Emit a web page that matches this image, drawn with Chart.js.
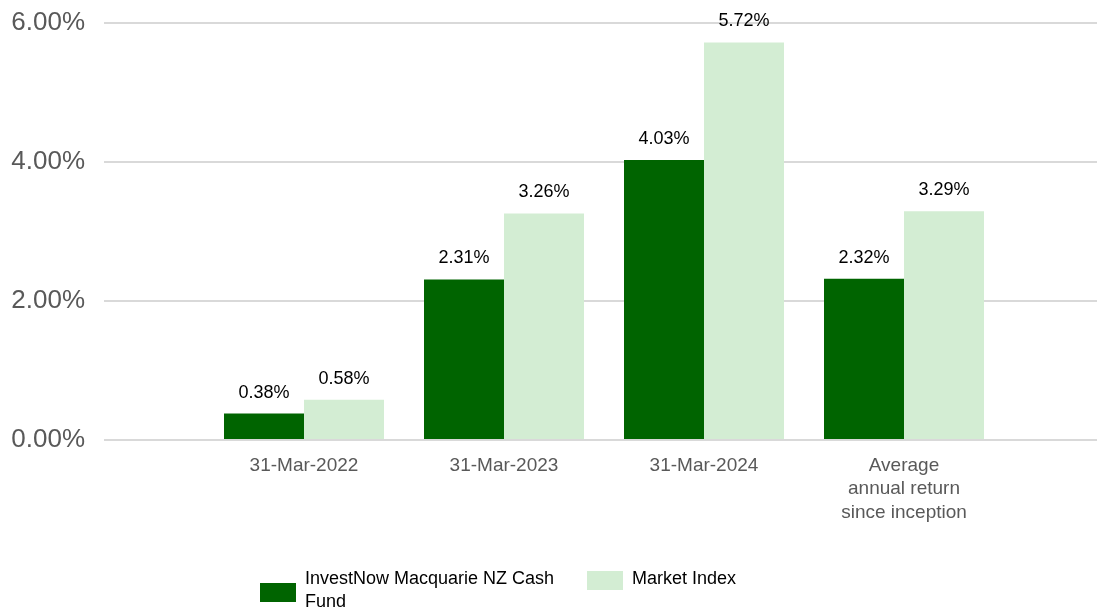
<!DOCTYPE html>
<html>
<head>
<meta charset="utf-8">
<script src="https://cdn.jsdelivr.net/npm/chart.js@4/dist/chart.umd.min.js"></script>
<style>
    html, body { margin: 0; padding: 0; background: #fff; overflow: hidden; }
    #wrap { position: relative; width: 1097px; height: 614px; overflow: hidden; }
    #statisticsChart { position: absolute; left: 0; top: 0; }
    .legend-item { position: absolute; font-family: "Liberation Sans", Arial, sans-serif; font-size: 18px; line-height: 23px; color: #000; }
    .legend-box { position: absolute; width: 36px; height: 19px; }
</style>
</head>
<body>
<div id="wrap">
    <canvas id="statisticsChart" width="1118" height="614"></canvas>
    <div id="legend"></div>
</div>
<script>
const categories = ['31-Mar-2022', '31-Mar-2023', '31-Mar-2024', ['Average', 'annual return', 'since inception']];
const seriesNames = ['InvestNow Macquarie NZ Cash Fund', 'Market Index'];
const fundValues = [0.38, 2.31, 4.03, 2.32];
const indexValues = [0.58, 3.26, 5.72, 3.29];
const yTicks = [0, 2, 4, 6];
const colors = ['#006400', '#d3edd3'];

// empty slot at each end so the groups sit like in the original
const labels = [''].concat(categories, ['']);
const pad = arr => [null].concat(arr, [null]);

const valueLabels = {
    id: 'valueLabels',
    afterDatasetsDraw(chart) {
        const ctx = chart.ctx;
        ctx.save();
        ctx.font = '18px "Liberation Sans", Arial, sans-serif';
        ctx.fillStyle = '#000';
        ctx.textAlign = 'center';
        ctx.textBaseline = 'middle';
        chart.data.datasets.forEach((ds, i) => {
            chart.getDatasetMeta(i).data.forEach((bar, j) => {
                const v = ds.data[j];
                if (v === null) return;
                ctx.fillText(v.toFixed(2) + '%', bar.x, bar.y - 21);
            });
        });
        ctx.restore();
    }
};

const ctx = document.getElementById('statisticsChart').getContext('2d');
const chart = new Chart(ctx, {
    type: 'bar',
    data: {
        labels: labels,
        datasets: [{
            label: seriesNames[0],
            data: pad(fundValues),
            backgroundColor: colors[0]
        }, {
            label: seriesNames[1],
            data: pad(indexValues),
            backgroundColor: colors[1]
        }]
    },
    options: {
        responsive: false,
        animation: false,
        layout: { padding: { top: 23, right: 0, bottom: 74, left: 0 } },
        categoryPercentage: 0.8,
        barPercentage: 1.0,
        plugins: {
            legend: { display: false },
            tooltip: { enabled: false }
        },
        scales: {
            x: {
                offset: false,
                grid: { display: false, drawTicks: false },
                border: { display: false },
                ticks: {
                    padding: 14,
                    maxRotation: 0,
                    autoSkip: false,
                    color: '#595959',
                    font: { family: '"Liberation Sans", Arial, sans-serif', size: 19, lineHeight: 1.23 }
                },
                afterFit(scale) { scale.height = 100; }
            },
            y: {
                min: 0,
                max: 6,
                afterBuildTicks(scale) { scale.ticks = yTicks.map(v => ({ value: v })); },
                grid: { color: '#d9d9d9', lineWidth: 2, drawTicks: false },
                border: { display: false },
                ticks: {
                    padding: 19,
                    color: '#595959',
                    font: { family: '"Liberation Sans", Arial, sans-serif', size: 26 },
                    callback: v => v.toFixed(2) + '%'
                },
                afterFit(scale) {
                    scale.width = 104;
                    scale.paddingTop = 0; // tick padding was pushing the top down
                    scale.paddingBottom = 0;
                }
            }
        }
    },
    plugins: [valueLabels]
});

// legend below the chart
const legendPos = [
    { box: [260, 583], text: [305, 567], width: 270 },
    { box: [587, 571], text: [632, 567], width: 200 }
];
const legend = document.getElementById('legend');
seriesNames.forEach((name, i) => {
    const p = legendPos[i];
    const box = document.createElement('div');
    box.className = 'legend-box';
    box.style.left = p.box[0] + 'px';
    box.style.top = p.box[1] + 'px';
    box.style.background = colors[i];
    legend.appendChild(box);
    const txt = document.createElement('div');
    txt.className = 'legend-item';
    txt.style.left = p.text[0] + 'px';
    txt.style.top = p.text[1] + 'px';
    txt.style.width = p.width + 'px';
    txt.textContent = name;
    legend.appendChild(txt);
});
</script>
</body>
</html>
